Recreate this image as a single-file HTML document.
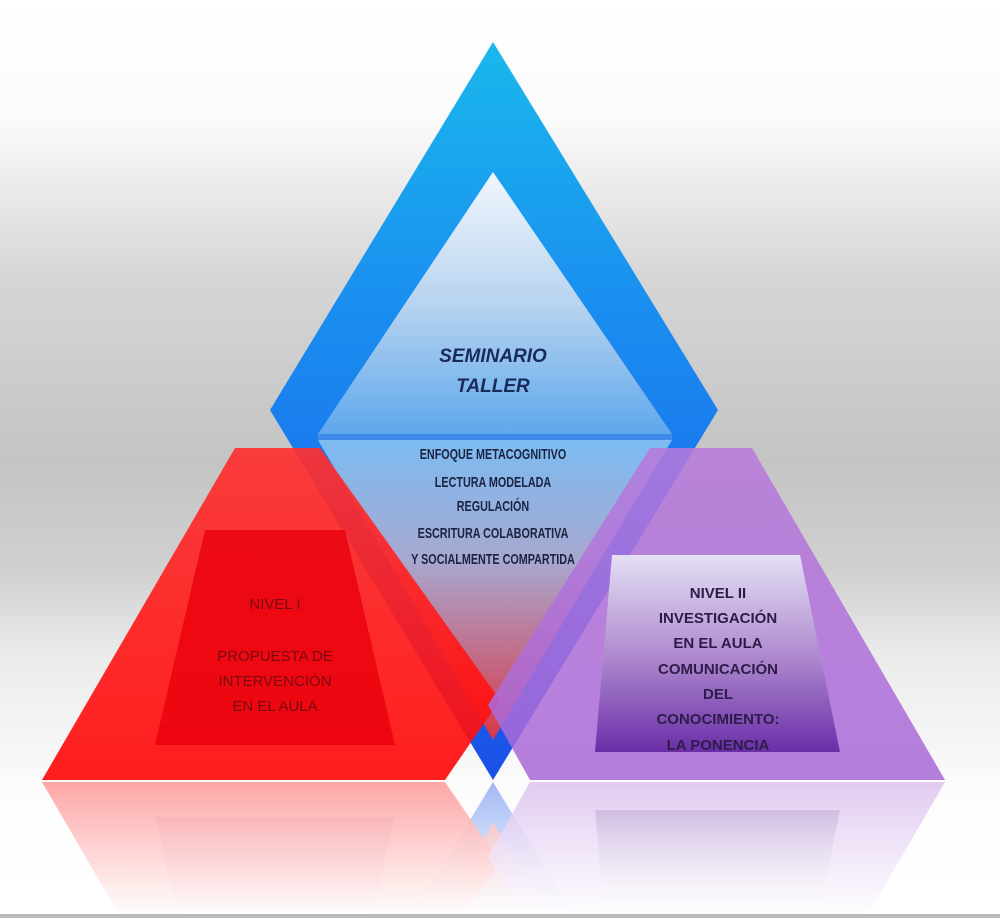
<!DOCTYPE html>
<html><head><meta charset="utf-8"><style>
html,body{margin:0;padding:0;overflow:hidden}
body{width:1000px;height:918px;overflow:hidden;background:#fff}
svg{display:block}
svg text{font-family:"Liberation Sans",sans-serif}
</style></head><body>
<svg width="1000" height="918" viewBox="0 0 1000 918" xmlns="http://www.w3.org/2000/svg" style="overflow:hidden">
<defs>
<clipPath id="cp"><rect width="1000" height="918"/></clipPath>
<linearGradient id="bg" x1="0" y1="0" x2="0" y2="1">
<stop offset="0" stop-color="#fff"/><stop offset="0.13" stop-color="#fbfbfb"/>
<stop offset="0.3" stop-color="#d6d6d6"/><stop offset="0.5" stop-color="#c4c4c4"/>
<stop offset="0.62" stop-color="#d0d0d0"/><stop offset="0.72" stop-color="#ececec"/>
<stop offset="0.85" stop-color="#fafafa"/><stop offset="1" stop-color="#fff"/>
</linearGradient>
<linearGradient id="dia" x1="0" y1="0" x2="0" y2="1">
<stop offset="0" stop-color="#1ab8ec"/><stop offset="0.35" stop-color="#1a8ff0"/><stop offset="1" stop-color="#1a50e8"/>
</linearGradient>
<linearGradient id="inn" x1="0" y1="0" x2="0" y2="1">
<stop offset="0" stop-color="#f0f6fc"/><stop offset="0.5" stop-color="#b8d4f0"/><stop offset="1" stop-color="#5fa8ec"/>
</linearGradient>
<linearGradient id="low" x1="0" y1="0" x2="0" y2="1">
<stop offset="0" stop-color="#7cbcf2"/><stop offset="0.4" stop-color="#a8a8d0"/><stop offset="1" stop-color="#d83848"/>
</linearGradient>
<linearGradient id="red" x1="0" y1="0" x2="0" y2="1">
<stop offset="0" stop-color="#ff3030"/><stop offset="1" stop-color="#ff0a0a"/>
</linearGradient>
<linearGradient id="pur" x1="0" y1="0" x2="0" y2="1">
<stop offset="0" stop-color="#b878dc"/><stop offset="1" stop-color="#a868d8"/>
</linearGradient>
<linearGradient id="pin" x1="0" y1="0" x2="0" y2="1">
<stop offset="0" stop-color="#e4e0f4"/><stop offset="0.5" stop-color="#b08cd0"/><stop offset="1" stop-color="#6a2ea8"/>
</linearGradient>
<linearGradient id="fade" x1="0" y1="0" x2="0" y2="1">
<stop offset="0" stop-color="#fff" stop-opacity="0.35"/><stop offset="1" stop-color="#fff" stop-opacity="1"/>
</linearGradient>
<g id="shapes">
<polygon points="493,42 718,410 493,780 270,410" fill="url(#dia)"/>
<polygon points="318,440 672,440 493,740" fill="url(#low)"/>
<polygon points="493,172 672,434 318,434" fill="url(#inn)"/>
<rect x="318" y="434" width="354" height="6" fill="#3f8ae8"/>
<polygon points="42,780 235,448 320,448 500,700 445,780" fill="url(#red)" opacity="0.92"/>
<polygon points="205,530 345,530 395,745 155,745" fill="#e8000c" opacity="0.8"/>
<polygon points="945,780 752,448 650,448 488,705 530,780" fill="url(#pur)" opacity="0.85"/>
<polygon points="612,555 800,555 840,752 595,752" fill="url(#pin)"/>
</g>
</defs>
<g clip-path="url(#cp)">
<rect width="1000" height="918" fill="url(#bg)"/>
<g transform="translate(0,1562) scale(1,-1)" opacity="0.6"><use href="#shapes"/></g>
<rect x="0" y="782" width="1000" height="136" fill="url(#fade)"/>
<use href="#shapes"/>
<rect x="0" y="914" width="1000" height="4" fill="#bbb"/>
<g font-weight="bold" font-style="italic" font-size="19" fill="#1a2a5a" text-anchor="middle">
<text x="493" y="362">SEMINARIO</text><text x="493" y="392">TALLER</text>
</g>
<g font-size="15" font-weight="bold" fill="#1a2340" text-anchor="middle" transform="translate(493,0) scale(0.72,1) translate(-493,0)">
<text x="493" y="459">ENFOQUE METACOGNITIVO</text>
<text x="493" y="487">LECTURA MODELADA</text>
<text x="493" y="511">REGULACIÓN</text>
<text x="493" y="538">ESCRITURA COLABORATIVA</text>
<text x="493" y="564">Y SOCIALMENTE COMPARTIDA</text>
</g>
<g font-size="15" fill="#7a0a10" text-anchor="middle">
<text x="275" y="609">NIVEL I</text>
<text x="275" y="661">PROPUESTA DE</text>
<text x="275" y="686">INTERVENCIÓN</text>
<text x="275" y="711">EN EL AULA</text>
</g>
<g font-size="15" font-weight="bold" fill="#2e1c48" text-anchor="middle">
<text x="718" y="598">NIVEL II</text>
<text x="718" y="623">INVESTIGACIÓN</text>
<text x="718" y="648">EN EL AULA</text>
<text x="718" y="674">COMUNICACIÓN</text>
<text x="718" y="699">DEL</text>
<text x="718" y="724">CONOCIMIENTO:</text>
<text x="718" y="750">LA PONENCIA</text>
</g>
</g>
</svg>
</body></html>
